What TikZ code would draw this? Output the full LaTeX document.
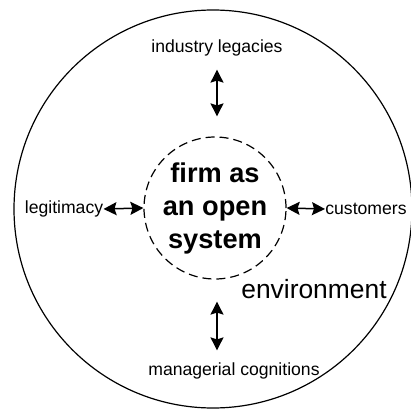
\documentclass[tikz,border=0pt]{standalone}
\usepackage{fontspec}
\setmainfont{Liberation Sans}
\usetikzlibrary{arrows.meta}
\begin{document}
\begin{tikzpicture}[x=0.5pt,y=-0.5pt,
  arrow/.style={line width=0.75pt,{Stealth[length=6.5pt,width=6.5pt,inset=1pt]}-{Stealth[length=6.5pt,width=6.5pt,inset=1pt]}},
  label node/.style={inner sep=0pt,font=\fontsize{8.8pt}{10pt}\selectfont},
  firm node/.style={circle,draw,dashed,dash pattern=on 4.5pt off 2.5pt,line width=0.6pt,minimum size=71pt,inner sep=0pt,align=center,font=\fontsize{13.6pt}{16.5pt}\selectfont\bfseries}]
  \useasboundingbox (0,0) rectangle (411,413);

  \draw[line width=0.6pt] (213,209) circle (199);

  \node[firm node] (firm) at (215,208) {firm as\\an open\\system};
  \node[label node] (legacies) at (217,48) {industry legacies};
  \node[label node] (legit) at (64,209) {legitimacy};
  \node[label node] (cust) at (366,209) {customers};
  \node[label node] (cogn) at (234,371) {managerial cognitions};
  \node[inner sep=0pt,font=\fontsize{13.2pt}{15pt}\selectfont] (env) at (314,289) {environment};

  \draw[arrow,shorten <=6.5pt,shorten >=10pt] (legacies.south) -- (legacies.south |- firm.north);
  \draw[arrow,shorten <=11pt,shorten >=6pt] (firm.south -| legacies.south) -- (legacies.south |- cogn.north);
  \draw[arrow] (legit.east) -- (firm.west);
  \draw[arrow] (firm.east) -- (cust.west);
\end{tikzpicture}
\end{document}
